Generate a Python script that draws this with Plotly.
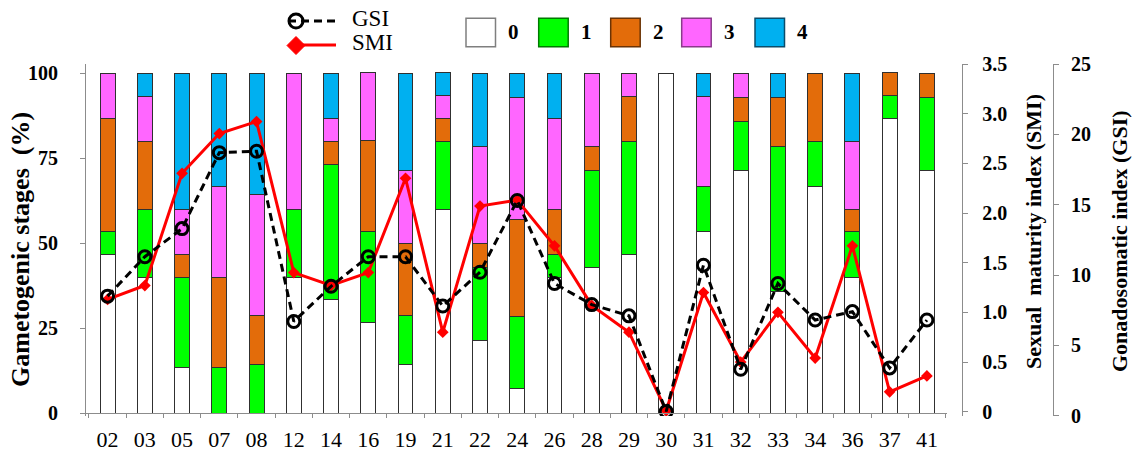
import plotly.graph_objects as go

# ---- data -------------------------------------------------------------
sites = ["02", "03", "05", "07", "08", "12", "14", "16", "19", "21", "22", "24",
         "26", "28", "29", "30", "31", "32", "33", "34", "36", "37", "41"]

# percentage of individuals at each gametogenic stage
stage0 = [46.7, 40.0, 13.3, 0.0, 0.0, 40.0, 33.3, 26.7, 14.3, 60.0, 21.4, 7.1,
          40.0, 42.9, 46.7, 100.0, 53.3, 71.4, 35.7, 66.7, 40.0, 86.7, 71.4]
stage1 = [6.7, 20.0, 26.7, 13.3, 14.3, 20.0, 40.0, 26.7, 14.3, 20.0, 21.4, 21.4,
          6.7, 28.6, 33.3, 0.0, 13.3, 14.3, 42.9, 13.3, 13.3, 6.7, 21.4]
stage2 = [33.3, 20.0, 6.7, 26.7, 14.3, 0.0, 6.7, 26.7, 21.4, 6.7, 7.1, 28.6,
          13.3, 7.1, 13.3, 0.0, 0.0, 7.1, 14.3, 20.0, 6.7, 6.7, 7.1]
stage3 = [13.3, 13.3, 13.3, 26.7, 35.7, 40.0, 6.7, 20.0, 21.4, 6.7, 28.6, 35.7,
          26.7, 21.4, 6.7, 0.0, 26.7, 7.1, 0.0, 0.0, 20.0, 0.0, 0.0]
stage4 = [0.0, 6.7, 40.0, 33.3, 35.7, 0.0, 13.3, 0.0, 28.6, 6.7, 21.4, 7.1,
          13.3, 0.0, 0.0, 0.0, 6.7, 0.0, 7.1, 0.0, 20.0, 0.0, 0.0]

# gonadosomatic index and sexual maturity index
gsi = [8.5, 11.3, 13.3, 18.7, 18.8, 6.7, 9.2, 11.3, 11.3, 7.8, 10.2, 15.3,
       9.4, 7.9, 7.1, 0.3, 10.7, 3.3, 9.4, 6.8, 7.4, 3.4, 6.8]
smi = [1.13, 1.27, 2.40, 2.80, 2.92, 1.40, 1.27, 1.40, 2.35, 0.80, 2.07, 2.13,
       1.67, 1.07, 0.80, 0.01, 1.20, 0.50, 1.00, 0.54, 1.67, 0.20, 0.36]

stage_names = ["0", "1", "2", "3", "4"]
stage_fill = ["#FFFFFF", "#00FF00", "#E36C0A", "#FF66FF", "#00B0F0"]
stage_edge = ["#7F7F7F", "#007A00", "#6B3305", "#8A3A8A", "#0B4D6B"]

smi_ticks = [0, 0.5, 1.0, 1.5, 2.0, 2.5, 3.0, 3.5]
smi_ticktext = ["0", "0.5", "1.0", "1.5", "2.0", "2.5", "3.0", "3.5"]
gsi_ticks = [0, 5, 10, 15, 20, 25]
pct_ticks = [0, 25, 50, 75, 100]

# ---- page geometry (pixels) -------------------------------------------
W, H = 1133, 452
PAPER_L, PAPER_R = 86, 1053
PAPER_T, PAPER_B = 64, 416
PW = PAPER_R - PAPER_L
PH = PAPER_B - PAPER_T


def px_x(px):
    return (px - PAPER_L) / PW


def px_y(py):
    return (PAPER_B - py) / PH


SERIF = "Liberation Serif"

fig = go.Figure()

for name, vals, fill in zip(stage_names,
                            [stage0, stage1, stage2, stage3, stage4],
                            stage_fill):
    fig.add_trace(go.Bar(
        x=sites, y=vals, name=name, width=0.4,
        marker=dict(color=fill, line=dict(color="#303030", width=1)),
        yaxis="y", showlegend=False,
    ))

fig.add_trace(go.Scatter(
    x=sites, y=gsi, name="GSI", yaxis="y3", mode="lines+markers",
    line=dict(color="black", width=3, dash="8px,5px"),
    marker=dict(symbol="circle-open", size=12, color="black",
                line=dict(color="black", width=3)),
    showlegend=False,
))
fig.add_trace(go.Scatter(
    x=sites, y=smi, name="SMI", yaxis="y2", mode="lines+markers",
    line=dict(color="#FF0000", width=3),
    marker=dict(symbol="diamond", size=9, color="#FF0000"),
    showlegend=False,
))

axis_font = dict(family=SERIF, size=20, color="black", weight="bold")
AXIS_GREY = "#8C8C8C"

fig.update_layout(
    width=W, height=H,
    margin=dict(l=PAPER_L, r=W - PAPER_R, t=PAPER_T, b=H - PAPER_B, pad=0,
                autoexpand=False),
    paper_bgcolor="white", plot_bgcolor="white",
    barmode="stack",
    showlegend=False,
    xaxis=dict(
        type="category", categoryorder="array", categoryarray=sites,
        range=[-0.58, 22.54],
        domain=[0, px_x(947)],
        anchor="free", position=px_y(413.3),
        showline=True, linecolor=AXIS_GREY, linewidth=1,
        ticks="outside", tickson="boundaries", ticklen=4, tickcolor=AXIS_GREY,
        tickfont=dict(family=SERIF, size=22, color="black"),
        ticklabelstandoff=6,
        showgrid=False, zeroline=False, automargin=False,
    ),
    yaxis=dict(
        range=[-0.883, 102.74],
        anchor="x", side="left",
        tickvals=pct_ticks,
        showline=True, linecolor=AXIS_GREY, linewidth=1,
        ticks="outside", ticklen=5, tickcolor=AXIS_GREY,
        tickfont=axis_font, ticklabelstandoff=18,
        showgrid=False, zeroline=False, automargin=False,
    ),
    yaxis2=dict(
        range=[-0.0433, 3.5], overlaying="y",
        anchor="free", position=px_x(962.3), side="right",
        tickvals=smi_ticks, ticktext=smi_ticktext,
        showline=True, linecolor=AXIS_GREY, linewidth=1,
        ticks="outside", ticklen=5, tickcolor=AXIS_GREY,
        tickfont=axis_font, ticklabelstandoff=10,
        showgrid=False, zeroline=False, automargin=False,
    ),
    yaxis3=dict(
        range=[-0.02, 25], overlaying="y",
        anchor="free", position=1.0, side="right",
        tickvals=gsi_ticks,
        showline=True, linecolor=AXIS_GREY, linewidth=1,
        ticks="outside", ticklen=5, tickcolor=AXIS_GREY,
        tickfont=axis_font, ticklabelstandoff=8,
        showgrid=False, zeroline=False, automargin=False,
    ),
)

# ---- axis titles ------------------------------------------------------
title_font = dict(family=SERIF, size=22, color="black", weight="bold")
titles = [
    ("Gametogenic stages\u00a0\u00a0(%)", 21, 250, 26),
    ("Sexual\u00a0\u00a0maturity index (SMI)", 1033, 232, 22),
    ("Gonadosomatic index (GSI)", 1119, 241, 22),
]
for text, cx, cy, size in titles:
    fig.add_annotation(
        text=text, xref="paper", yref="paper", x=px_x(cx), y=px_y(cy),
        xanchor="center", yanchor="middle", textangle=-90, showarrow=False,
        font=dict(title_font, size=size),
    )

# ---- legend -----------------------------------------------------------
shapes = []
annotations = []

# stage swatches
swatch_left = [466, 538.7, 610.7, 681.7, 755]
for name, fill, edge, x0 in zip(stage_names, stage_fill, stage_edge, swatch_left):
    shapes.append(dict(
        type="rect", xref="paper", yref="paper",
        x0=px_x(x0), x1=px_x(x0 + 29.5), y0=px_y(46.7), y1=px_y(18.3),
        fillcolor=fill, line=dict(color=edge, width=1.5),
    ))
    annotations.append(dict(
        text=name, xref="paper", yref="paper", x=px_x(x0 + 40), y=px_y(32),
        xanchor="left", yanchor="middle", showarrow=False,
        font=dict(family=SERIF, size=21, color="black", weight="bold"),
    ))

# GSI key: dashed line with an open circle
shapes.append(dict(
    type="line", xref="paper", yref="paper",
    x0=px_x(288), x1=px_x(336), y0=px_y(21), y1=px_y(21),
    line=dict(color="black", width=3, dash="8px,5px"),
))
shapes.append(dict(
    type="circle", xref="paper", yref="paper",
    x0=px_x(289), x1=px_x(303), y0=px_y(28), y1=px_y(14),
    fillcolor="rgba(0,0,0,0)", line=dict(color="black", width=3),
))
# SMI key: solid red line with a filled diamond
shapes.append(dict(
    type="line", xref="paper", yref="paper",
    x0=px_x(296), x1=px_x(336), y0=px_y(45), y1=px_y(45),
    line=dict(color="#FF0000", width=3),
))
dx, dy = 9, 9
cx, cy = 296, 45.5
shapes.append(dict(
    type="path", xref="paper", yref="paper",
    path=(f"M {px_x(cx - dx)},{px_y(cy)} L {px_x(cx)},{px_y(cy - dy)} "
          f"L {px_x(cx + dx)},{px_y(cy)} L {px_x(cx)},{px_y(cy + dy)} Z"),
    fillcolor="#FF0000", line=dict(color="#FF0000", width=1),
))
for text, cy_text in [("GSI", 18.5), ("SMI", 42)]:
    annotations.append(dict(
        text=text, xref="paper", yref="paper", x=px_x(350), y=px_y(cy_text),
        xanchor="left", yanchor="middle", showarrow=False,
        font=dict(family=SERIF, size=23, color="black"),
    ))

fig.update_layout(shapes=shapes)
for a in annotations:
    fig.add_annotation(**a)

fig.write_html("out.html")
